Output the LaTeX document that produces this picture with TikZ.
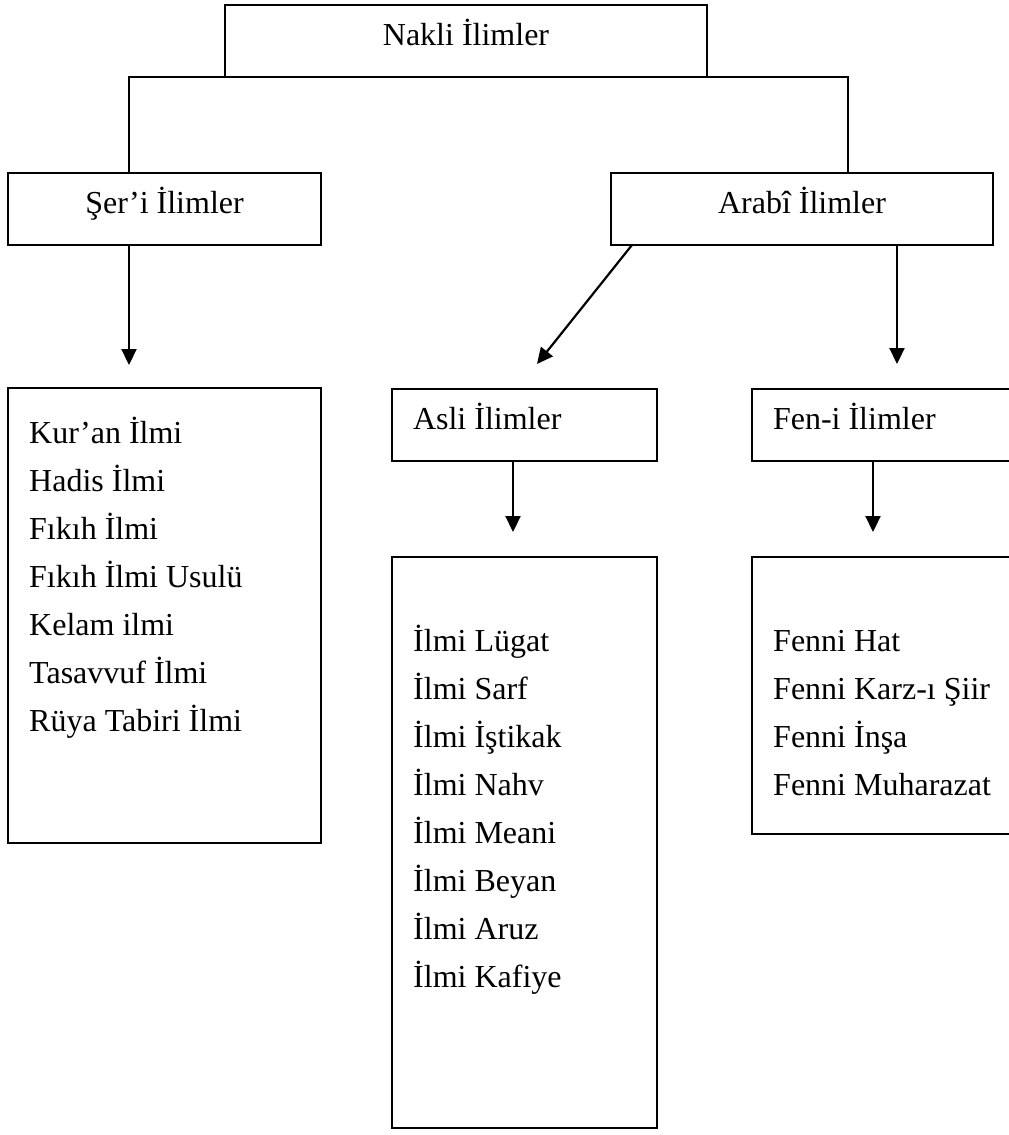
\documentclass[tikz,border=0pt]{standalone}
\usepackage{fontspec}
\setmainfont{Liberation Serif}
\usetikzlibrary{arrows.meta}

\begin{document}
\begin{tikzpicture}[x=1pt, y=-1pt,
    kutu/.style = {draw, line width=2.5pt, outer sep=0pt, anchor=north west, inner xsep=0pt, inner ysep=0pt,
        text height=40pt, text depth=32pt, align=center, font=\fontsize{32}{48}\selectfont},
    solkutu/.style = {kutu, inner xsep=21pt, text width=223pt, align=flush left},
    liste/.style = {draw, line width=2.5pt, outer sep=0pt, anchor=north west, inner sep=0pt},
    madde/.style = {anchor=north west, inner sep=0pt, align=left, font=\fontsize{32}{48}\selectfont},
    ok/.style = {line width=2.2pt, -{Triangle[length=16pt, width=15pt]}}]
    \useasboundingbox (0,0) rectangle (1009,1135);
    \clip (0,0) rectangle (1009,1135);
    \node[kutu, minimum width=482pt] (nakli) at (225,5) {Nakli İlimler};
    \node[kutu, minimum width=313pt] (seri) at (8,173) {Şer’i İlimler};
    \node[kutu, minimum width=382pt] (arabi) at (611,173) {Arabî İlimler};
    \node[solkutu] (asli) at (392,389) {Asli İlimler};
    \node[solkutu] (fen) at (752,389) {Fen-i İlimler};
    \node[liste, minimum width=313pt, minimum height=455pt] (serliste) at (8,388) {};
    \node[liste, minimum width=265pt, minimum height=571pt] (asliliste) at (392,557) {};
    \node[liste, minimum width=265pt, minimum height=277pt] (fenliste) at (752,557) {};
    \node[madde] (sermadde) at (29,409.4) {\strut Kur’an İlmi\\Hadis İlmi\\Fıkıh İlmi\\Fıkıh İlmi Usulü\\Kelam ilmi\\Tasavvuf İlmi\\Rüya Tabiri İlmi};
    \node[madde] (aslimadde) at (413,617.4) {\strut İlmi Lügat\\İlmi Sarf\\İlmi İştikak\\İlmi Nahv\\İlmi Meani\\İlmi Beyan\\İlmi Aruz\\İlmi Kafiye};
    \node[madde] (fenmadde) at (773,617.4) {\strut Fenni Hat\\Fenni Karz-ı Şiir\\Fenni İnşa\\Fenni Muharazat};
    \coordinate (u1) at (129,365);
    \coordinate (u2) at (537,364);
    \coordinate (u3) at (897,364);
    \coordinate (u4) at (513,532);
    \coordinate (u5) at (873,532);
    \coordinate (k1) at (129,173);
    \coordinate (k2) at (848,173);
    \draw[line width=2.2pt] (seri.north -| k1) |- (nakli.south) -| (arabi.north -| k2);
    \draw[ok] (seri.south -| u1) -- (u1);
    \draw[ok] ([xshift=-170pt]arabi.south) -- (u2);
    \draw[ok] (arabi.south -| u3) -- (u3);
    \draw[ok] (asli.south -| u4) -- (u4);
    \draw[ok] (fen.south -| u5) -- (u5);
\end{tikzpicture}
\end{document}
